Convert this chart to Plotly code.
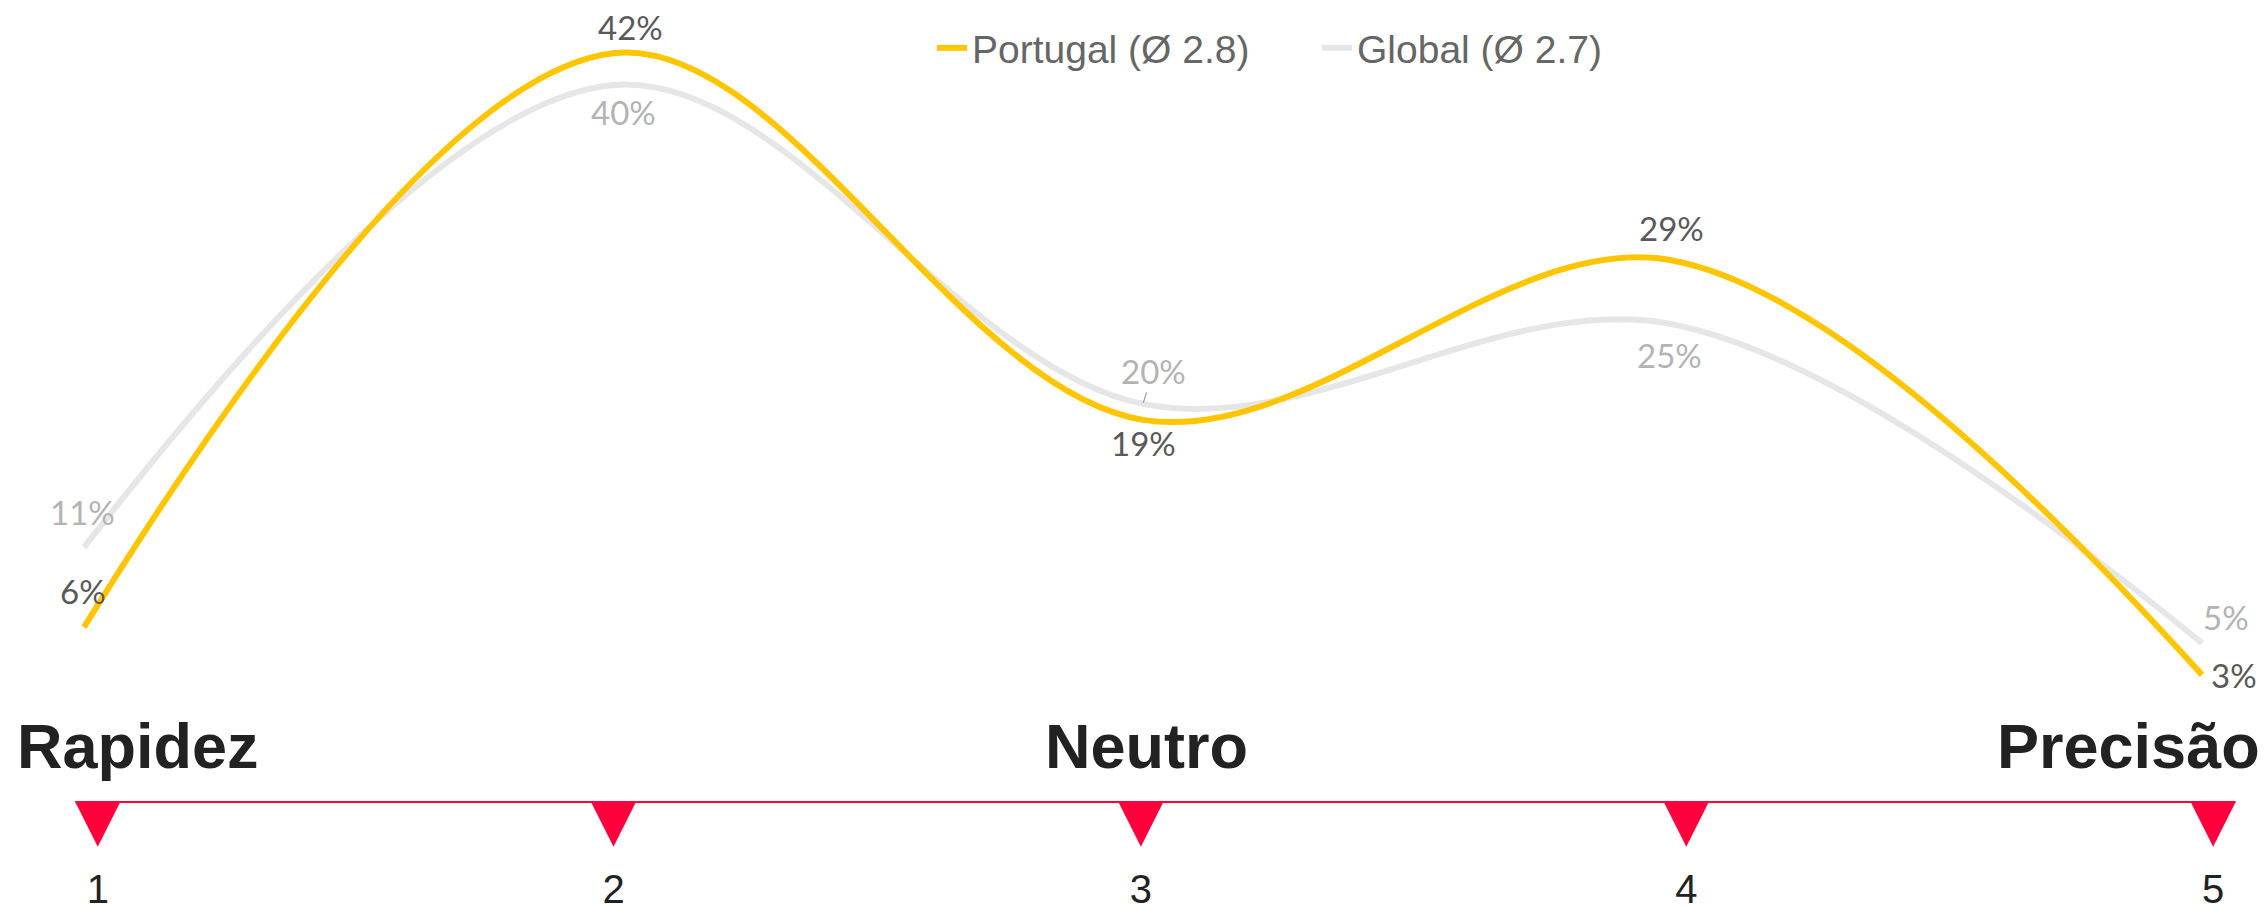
import plotly.graph_objects as go

# ---------------- data ----------------
scale_points = [1, 2, 3, 4, 5]
portugal = [6, 42, 19, 29, 3]
global_vals = [11, 40, 20, 25, 5]
series_names = ["Portugal (Ø 2.8)", "Global (Ø 2.7)"]
scale_labels = ["1", "2", "3", "4", "5"]
marker_pos = [1.026, 2.0, 2.996, 4.026, 5.021]
pole_labels = ["Rapidez", "Neutro", "Precisão"]
pole_pos = [0.87, 3.007, 5.113]

# ---------------- style ----------------
YELLOW = "#FFC600"
LIGHT = "#E6E6E6"
RED = "#FF003C"
DARK = "#222222"
LAB_DARK = "#595959"
LAB_LIGHT = "#B3B3B3"

W, H = 2268, 911
X_RANGE = [0.84136, 5.1246]
Y_RANGE = [-11.813, 45.339]
AXIS_Y = -4.97
TRI_DEPTH = 2.82
TRI_HALF = 0.0425
NUM_Y = -10.68
POLE_Y = -1.43
LINE_W = 6

fig = go.Figure()

fig.add_trace(go.Scatter(
    x=scale_points, y=global_vals, mode="lines", name=series_names[1],
    line=dict(color=LIGHT, width=LINE_W, shape="spline", smoothing=1.0),
    hoverinfo="skip", legendrank=2))
fig.add_trace(go.Scatter(
    x=scale_points, y=portugal, mode="lines", name=series_names[0],
    line=dict(color=YELLOW, width=LINE_W, shape="spline", smoothing=1.0),
    hoverinfo="skip", legendrank=1))

# scale line
fig.add_trace(go.Scatter(
    x=[marker_pos[0] - TRI_HALF, marker_pos[-1] + TRI_HALF], y=[AXIS_Y, AXIS_Y],
    mode="lines", line=dict(color=RED, width=2), showlegend=False, hoverinfo="skip"))

# triangles
tx, ty = [], []
for p in marker_pos:
    tx += [p - TRI_HALF, p + TRI_HALF, p, p - TRI_HALF, None]
    ty += [AXIS_Y, AXIS_Y, AXIS_Y - TRI_DEPTH, AXIS_Y, None]
fig.add_trace(go.Scatter(
    x=tx, y=ty, mode="lines", fill="toself", fillcolor=RED,
    line=dict(color=RED, width=0), showlegend=False, hoverinfo="skip"))

# scale numbers
fig.add_trace(go.Scatter(
    x=marker_pos, y=[NUM_Y] * len(marker_pos), mode="text", text=scale_labels,
    textposition="middle center",
    textfont=dict(family="Liberation Sans, Arial, sans-serif", size=40, color=DARK),
    showlegend=False, hoverinfo="skip", cliponaxis=False))

# pole labels
anchors = ["left", "center", "right"]
for lab, xp, anc in zip(pole_labels, pole_pos, anchors):
    fig.add_annotation(x=xp, y=POLE_Y, text=f"<b>{lab}</b>", showarrow=False,
                       xanchor=anc, yanchor="middle",
                       font=dict(family="Liberation Sans, Arial, sans-serif", size=63, color=DARK))

# value labels (pixel offsets)
p_off = [(-1, -36), (17, -26), (0, 23), (-1, -32), (32, 0)]
g_off = [(-2, -35), (10, 27), (10, -33), (-3, 31), (24, -26)]
lab_font = "Lato, Open Sans, sans-serif"
LAB_SIZE = 33
for xv, yv, (dx, dy) in zip(scale_points, portugal, p_off):
    fig.add_annotation(x=xv, y=yv, text=f"{yv}%", showarrow=False,
                       xshift=dx, yshift=-dy, xanchor="center", yanchor="middle",
                       font=dict(family=lab_font, size=LAB_SIZE, color=LAB_DARK))
for i, (xv, yv, (dx, dy)) in enumerate(zip(scale_points, global_vals, g_off)):
    if i == 2:
        fig.add_annotation(x=xv, y=yv, text=f"{yv}%", showarrow=True,
                           ax=dx, ay=dy, arrowhead=0, arrowwidth=1.2,
                           arrowcolor="#9A9A9A", standoff=1,
                           font=dict(family=lab_font, size=LAB_SIZE, color=LAB_LIGHT))
    else:
        fig.add_annotation(x=xv, y=yv, text=f"{yv}%", showarrow=False,
                           xshift=dx, yshift=-dy, xanchor="center", yanchor="middle",
                           font=dict(family=lab_font, size=LAB_SIZE, color=LAB_LIGHT))

fig.update_layout(
    width=W, height=H,
    margin=dict(l=0, r=0, t=0, b=0),
    paper_bgcolor="white", plot_bgcolor="white",
    xaxis=dict(range=X_RANGE, visible=False, fixedrange=True),
    yaxis=dict(range=Y_RANGE, visible=False, fixedrange=True),
    showlegend=True,
    legend=dict(orientation="h", x=932 / W, y=1 - 48 / H, xanchor="left", yanchor="middle",
                font=dict(family="Liberation Sans, Arial, sans-serif",
                          size=39, color="#666666"),
                bgcolor="rgba(0,0,0,0)", borderwidth=0, itemwidth=30,
                entrywidth=340, entrywidthmode="pixels",
                traceorder="normal"),
)

fig.write_html("out.html", config={"displayModeBar": False, "staticPlot": True},
               post_script="document.body.style.margin='0';document.body.style.overflow='hidden';")
